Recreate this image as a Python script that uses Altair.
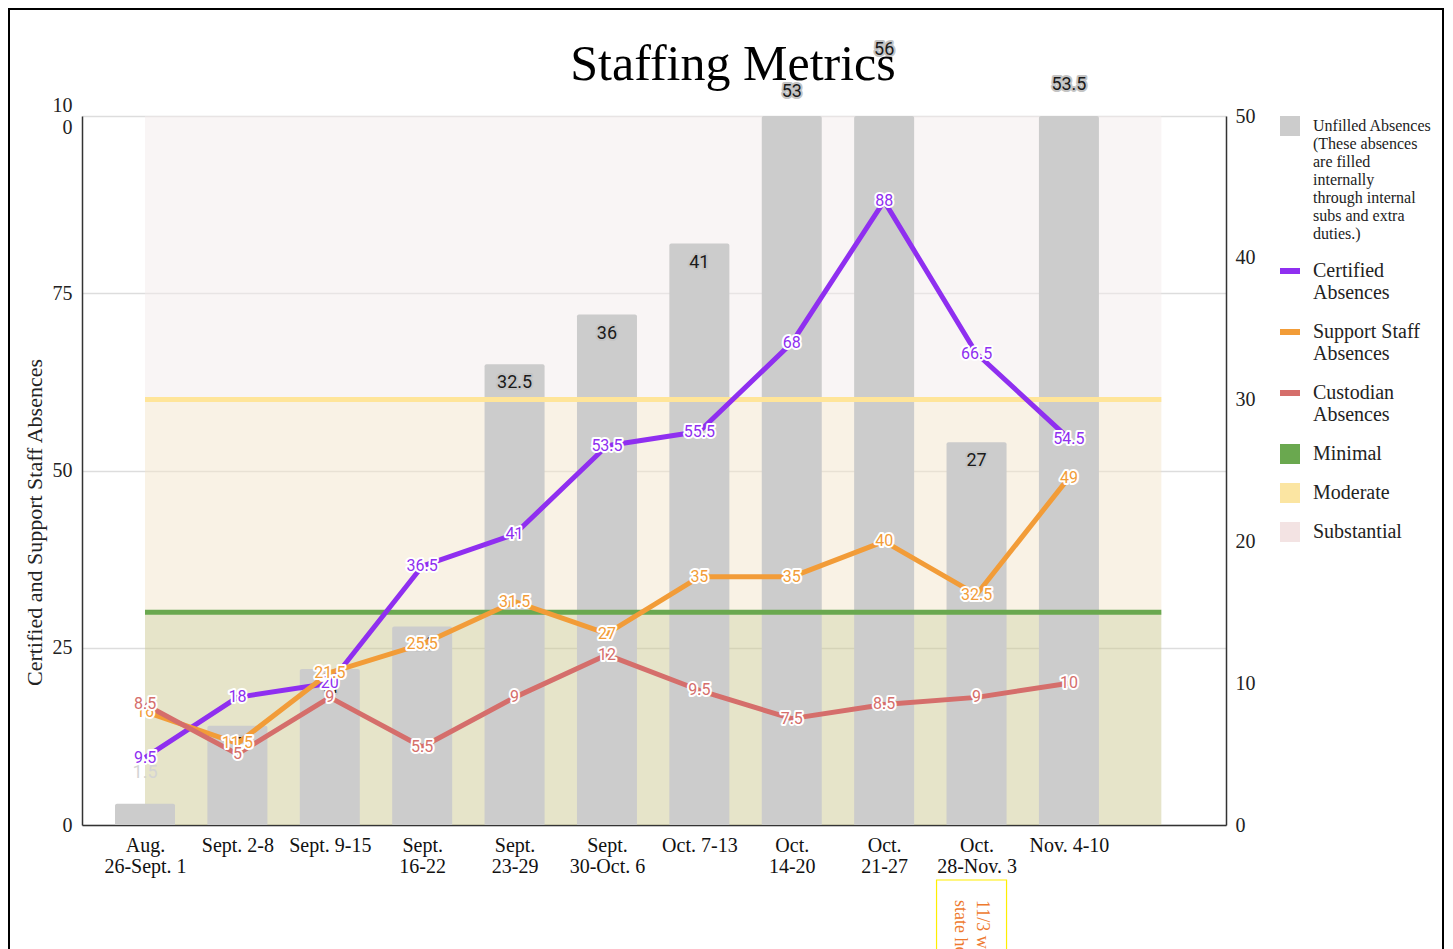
import json
import altair as alt
import pandas as pd

# ---------------- data ----------------
weeks = ["Aug.|26-Sept. 1", "Sept. 2-8", "Sept. 9-15", "Sept.|16-22", "Sept.|23-29",
         "Sept.|30-Oct. 6", "Oct. 7-13", "Oct.|14-20", "Oct.|21-27", "Oct.|28-Nov. 3",
         "Nov. 4-10"]
unfilled = [1.5, 7, 11, 14, 32.5, 36, 41, 53, 56, 27, 53.5]
certified = [9.5, 18, 20, 36.5, 41, 53.5, 55.5, 68, 88, 66.5, 54.5]
support = [16, 11.5, 21.5, 25.5, 31.5, 27, 35, 35, 40, 32.5, 49]
custodian = [8.5, 5, 9, 5.5, 9, 12, 9.5, 7.5, 8.5, 9, 10]

left_ticks = [0, 25, 50, 75, 100]
right_ticks = [0, 10, 20, 30, 40, 50]

band_low = [0, 30, 60]
band_high = [30, 60, 100]
band_fill = ["#cdc993", "#f3e5cb", "#f3ebeb"]
threshold_vals = [30, 60]
threshold_colors = ["#6aa84f", "#ffe599"]

legend_names = ["Unfilled Absences|(These absences|are filled|internally|through internal|subs and extra|duties.)",
                "Certified|Absences", "Support Staff|Absences", "Custodian|Absences",
                "Minimal", "Moderate", "Substantial"]
legend_colors = ["#cccccc", "#8f2ff0", "#f29c38", "#d56e6b", "#6aa84f", "#fbe5a2", "#f3e3e3"]
SQ = "M-1,-1H1V1H-1Z"
BAR = "M-1,-0.3H1V0.3H-1Z"
legend_shapes = [SQ, BAR, BAR, BAR, SQ, SQ, SQ]

note_lines = ["11/3 was a", "state holiday"]
note_week = 9

# ---------------- setup ----------------
n = len(weeks)
idx = list(range(n))
W, H = 1144, 709
PAD = {"left": 74, "top": 108, "right": 219, "bottom": 124}
SERIF = "Liberation Serif"
SANS = "Roboto"
C_CERT, C_SUP, C_CUST = legend_colors[1], legend_colors[2], legend_colors[3]
RIGHT_MAX = 50

xscale = alt.Scale(domain=[-0.682, 11.70], nice=False, zero=False, padding=0)
yscale = alt.Scale(domain=[0, 100], nice=False, padding=0)

week_js = json.dumps(weeks)

bars_df = pd.DataFrame({"i": idx, "v": unfilled})
bands_df = pd.DataFrame({"x0": [0] * 3, "x1": [n] * 3, "low": band_low, "high": band_high, "fill": band_fill})
thr_df = pd.DataFrame({"x0": [0] * 2, "x1": [n] * 2, "y": threshold_vals, "c": threshold_colors})
cert_df = pd.DataFrame({"i": idx, "v": certified})
sup_df = pd.DataFrame({"i": idx, "v": support})
cust_df = pd.DataFrame({"i": idx, "v": custodian})
leg_df = pd.DataFrame({"name": legend_names})
right_df = pd.DataFrame({"t": right_ticks})
note_df = pd.DataFrame({"i": [note_week], "txt": ["|".join(note_lines)]})


def X(f):
    return alt.X(f, scale=xscale, title=None)


def Y(f):
    return alt.Y(f, scale=yscale)


bands = alt.Chart(bands_df).mark_rect(opacity=0.5).encode(
    x=alt.X("x0:Q", scale=xscale, title=None,
            axis=alt.Axis(values=idx, grid=False, ticks=False, labelOverlap=False, labelFlush=False,
                          labelBound=False,
                          labelExpr="split(" + week_js + "[datum.value], '|')",
                          labelFont=SERIF, labelFontSize=20, labelColor="#111111", labelLineHeight=21,
                          labelPadding=10, domainColor="#333333", domainWidth=1.5)),
    x2="x1:Q",
    y=alt.Y("low:Q", scale=yscale,
            axis=alt.Axis(values=left_ticks, title="Certified and Support Staff Absences",
                          labelExpr="datum.value == 100 ? ['10', '0'] : datum.label",
                          labelOffset={"condition": {"test": "datum.value == 100", "value": -11}, "value": 0},
                          grid=True, gridColor="#dddddd", gridWidth=1.5, ticks=False,
                          domainColor="#333333", domainWidth=1.5,
                          labelFont=SERIF, labelFontSize=20, labelColor="#222222", labelPadding=10,
                          labelLineHeight=22,
                          titleFont=SERIF, titleFontSize=22, titleFontWeight="normal",
                          titleColor="#222222", titleX=-36, titleY=406)),
    y2="high:Q",
    fill=alt.Fill("fill:N", scale=None),
)

bars = alt.Chart(bars_df).transform_calculate(yb=f"min(datum.v, {RIGHT_MAX}) * 2").mark_bar(
    size=60, color="#cccccc", cornerRadiusTopLeft=2, cornerRadiusTopRight=2
).encode(
    x=X("i:Q"),
    y=Y("yb:Q"),
    y2=alt.datum(0),
)

bar_text_in_halo = alt.Chart(bars_df).transform_filter("datum.v >= 5").transform_calculate(
    yv="datum.v * 2").mark_text(font=SANS, fontSize=18, dy=19, color="#c4c4c4", stroke="#c4c4c4",
                                strokeWidth=4, strokeJoin="round").encode(
    x=X("i:Q"), y=Y("yv:Q"), text="v:Q")
bar_text_in = alt.Chart(bars_df).transform_filter("datum.v >= 5").transform_calculate(
    yv="datum.v * 2").mark_text(font=SANS, fontSize=18, dy=19, color="#1a1a1a").encode(
    x=X("i:Q"), y=Y("yv:Q"), text="v:Q")
bar_text_out = alt.Chart(bars_df).transform_filter("datum.v < 5").transform_calculate(
    yv="datum.v * 2").mark_text(font=SANS, fontSize=18, dy=-31, color="#d4d4d4").encode(
    x=X("i:Q"), y=Y("yv:Q"), text="v:Q")

rules = alt.Chart(thr_df).mark_rule(strokeWidth=5).encode(
    x=X("x0:Q"), x2="x1:Q", y=Y("y:Q"),
    stroke=alt.Stroke("c:N", scale=None))


def line_layer(df, color, factor):
    base = alt.Chart(df).transform_calculate(yv=f"datum.v * {factor}")
    enc = dict(x=X("i:Q"), y=Y("yv:Q"))
    line = base.mark_line(color=color, strokeWidth=5, strokeJoin="round").encode(**enc)
    halo = base.mark_text(font=SANS, fontSize=16, color=color, stroke="white", strokeWidth=4,
                          strokeJoin="round").encode(text="v:Q", **enc)
    lab = base.mark_text(font=SANS, fontSize=16, color=color).encode(text="v:Q", **enc)
    return line, halo, lab


cl, ch, ct = line_layer(cert_df, C_CERT, 1)
sl, sh, st = line_layer(sup_df, C_SUP, 1)
ul, uh, ut = line_layer(cust_df, C_CUST, 2)

leg = alt.Legend(title=None, orient="none", legendX=1198, legendY=0, labelExpr="split(datum.label, '|')",
                 labelFont=SERIF, labelFontSize=alt.ExprRef("datum.index == 0 ? 16 : 20"),
                 labelColor="#222222", labelLimit=300,
                 symbolSize=400, symbolOpacity=1, symbolStrokeWidth=0, rowPadding=19,
                 labelOffset=13, padding=0)
legend_layer = alt.Chart(leg_df).mark_point(opacity=0, filled=True).encode(
    x=alt.value(0), y=alt.value(0),
    color=alt.Color("name:N", scale=alt.Scale(domain=legend_names, range=legend_colors), legend=leg),
    shape=alt.Shape("name:N", scale=alt.Scale(domain=legend_names, range=legend_shapes), legend=leg),
)

note_box = alt.Chart(note_df).mark_bar(size=70, fill="white", stroke="#ffee00", strokeWidth=1.2,
                                       xOffset=-5).encode(
    x=X("i:Q"), y=alt.value(H + 55), y2=alt.value(H + 200))
note_text = alt.Chart(note_df).transform_calculate(lines="split(datum.txt, '|')").mark_text(
    font=SERIF, fontSize=18, color="#ee7a2e", angle=90, align="left", baseline="middle",
    lineHeight=22, dy=-5).encode(x=X("i:Q"), y=alt.value(H + 75), text="lines:N")

# thin black frame around the whole picture (as in the reference screenshot)
frame = alt.Chart(pd.DataFrame({"k": [0]})).mark_rect(fill=None, stroke="#000000", strokeWidth=2).encode(
    x=alt.value(-PAD["left"] + 1), x2=alt.value(W + PAD["right"] - 2),
    y=alt.value(-PAD["top"] + 1), y2=alt.value(H + PAD["bottom"] + 20))

inner = alt.layer(bands, bars, bar_text_in_halo, bar_text_in, bar_text_out, rules,
                  cl, sl, ul, ch, ct, sh, st, uh, ut, legend_layer, note_box, note_text, frame)

right_axis = alt.Chart(right_df).mark_point(opacity=0).encode(
    x=alt.value(0),
    y=alt.Y("t:Q", scale=alt.Scale(domain=[0, RIGHT_MAX], nice=False, padding=0), title=None,
            axis=alt.Axis(orient="right", values=right_ticks, grid=False, ticks=False,
                          labelFont=SERIF, labelFontSize=20, labelColor="#222222", labelPadding=9,
                          domainColor="#333333", domainWidth=1.5)),
)

chart = alt.layer(inner, right_axis).resolve_scale(y="independent").properties(
    width=W, height=H,
    autosize="none",
    padding=PAD,
    title=alt.TitleParams("Staffing Metrics", font=SERIF, fontSize=50, fontWeight="normal",
                          color="#000000", anchor="middle", frame="group", dx=79, dy=86),
).configure_view(stroke=None)

chart.save("out.html", embed_options={"renderer": "svg", "actions": False})
